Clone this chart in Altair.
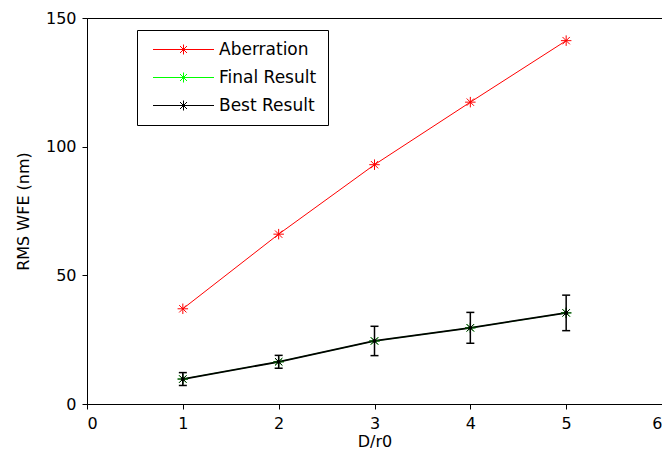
import altair as alt
import pandas as pd

d_r0 = [1, 2, 3, 4, 5]
aberration = [37.0, 66.0, 93.0, 117.3, 141.2]
final_result = [9.7, 16.4, 24.5, 29.6, 35.4]
best_result = [9.7, 16.4, 24.5, 29.6, 35.4]
best_err = [2.5, 2.5, 5.7, 6.0, 6.9]

series_names = ["Aberration", "Final Result", "Best Result"]
series_colors = ["#ff0000", "#00ff00", "#000000"]

rows = []
for name, vals in zip(series_names, [aberration, final_result, best_result]):
    for xv, yv in zip(d_r0, vals):
        rows.append({"x": xv, "y": yv, "series": name})
df = pd.DataFrame(rows)

err_df = pd.DataFrame({
    "x": d_r0,
    "lo": [v - e for v, e in zip(best_result, best_err)],
    "hi": [v + e for v, e in zip(best_result, best_err)],
})

FONT = "DejaVu Sans"
STAR = "M-1,0L1,0M0,-1L0,1M-0.7,-0.7L0.7,0.7M-0.7,0.7L0.7,-0.7"
LEG_SYM = ("M-6.1,0L6.1,0M-1,0L1,0M0,-1L0,1"
           "M-0.7,-0.7L0.7,0.7M-0.7,0.7L0.7,-0.7")

xscale = alt.Scale(domain=[0, 6], nice=False)
yscale = alt.Scale(domain=[0, 150], nice=False)
cscale = alt.Scale(domain=series_names, range=series_colors)

xenc = alt.X("x:Q", scale=xscale, title="D/r0",
             axis=alt.Axis(values=[0, 1, 2, 3, 4, 5, 6], format="d"))
yenc = alt.Y("y:Q", scale=yscale, title="RMS WFE (nm)",
             axis=alt.Axis(values=[0, 50, 100, 150], format="d"))

base = alt.Chart(df)

layers = []
for i, name in enumerate(series_names):
    if i == 0:
        legend = alt.Legend(
            title=None, orient="none", legendX=50, legendY=12,
            symbolType=LEG_SYM, symbolSize=100, symbolStrokeWidth=1,
            symbolFillColor="transparent", symbolOffset=27,
            labelFont=FONT, labelFontSize=17, labelColor="#000000",
            rowPadding=10, labelOffset=27, padding=11,
            strokeColor="#000000", fillColor="#ffffff",
        )
        col = alt.Color("series:N", scale=cscale, legend=legend)
    else:
        col = alt.Color("series:N", scale=cscale, legend=None)
    sw = {"Aberration": 1, "Final Result": 1, "Best Result": 1.8}[name]
    line = base.transform_filter(alt.datum.series == name).mark_line(
        strokeWidth=sw).encode(x=xenc, y=yenc, color=col)
    layers.append(line)

for name in series_names:
    pts = base.transform_filter(alt.datum.series == name).mark_point(
        shape=STAR, filled=False, size=110, strokeWidth=1, opacity=1).encode(
        x=xenc, y=yenc, color=alt.Color("series:N", scale=cscale, legend=None))
    layers.append(pts)

dots = base.transform_filter(alt.datum.series == "Best Result").mark_circle(
    size=14, color="#000000", opacity=1).encode(x=xenc, y=yenc)
layers.append(dots)

ebase = alt.Chart(err_df)
evert = ebase.mark_rule(color="#000000", strokeWidth=1.5).encode(
    x=alt.X("x:Q", scale=xscale), y=alt.Y("lo:Q", scale=yscale), y2="hi:Q")
ecap_hi = ebase.mark_rule(color="#000000", strokeWidth=1.5, xOffset=-4, x2Offset=4).encode(
    x=alt.X("x:Q", scale=xscale), x2="x:Q", y=alt.Y("hi:Q", scale=yscale))
ecap_lo = ebase.mark_rule(color="#000000", strokeWidth=1.5, xOffset=-4, x2Offset=4).encode(
    x=alt.X("x:Q", scale=xscale), x2="x:Q", y=alt.Y("lo:Q", scale=yscale))
layers += [evert, ecap_hi, ecap_lo]

chart = alt.layer(*layers).resolve_legend(color="independent").properties(
    width=575, height=386,
    background="#ffffff",
    autosize=alt.AutoSizeParams(type="none"),
    padding={"left": 79, "top": 10, "right": 0, "bottom": 47},
).configure_view(
    stroke="#000000", strokeWidth=1
).configure_axis(
    grid=False, domainColor="#000000", domainWidth=1,
    tickColor="#000000", tickSize=5, tickWidth=1,
    labelFont=FONT, labelFontSize=16, labelColor="#000000",
    titleFont=FONT, titleFontSize=16, titleFontWeight="normal", titleColor="#000000",
).configure_axisX(
    labelPadding=6, titlePadding=2
).configure_axisY(
    labelPadding=6, titlePadding=14
)

chart.save("out.html", embed_options={"renderer": "svg", "actions": False})
